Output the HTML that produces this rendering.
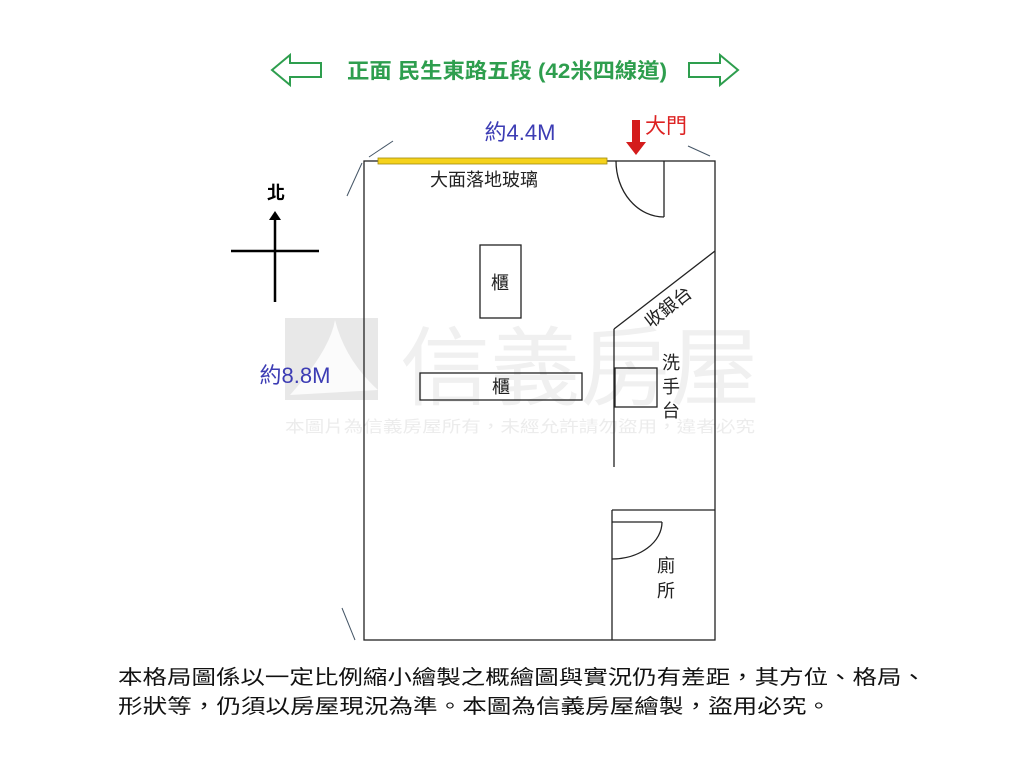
<!DOCTYPE html>
<html><head><meta charset="utf-8"><style>
html,body{margin:0;padding:0;background:#fff;}
svg{display:block;}
text{font-family:"Liberation Sans","Noto Sans CJK TC",sans-serif;}
</style></head><body>
<svg width="1024" height="768" viewBox="0 0 1024 768" xmlns="http://www.w3.org/2000/svg">
<rect width="1024" height="768" fill="#fff"/>
<rect x="285" y="318" width="93" height="82" fill="#e8e8e8"/>
<path d="M290 395 Q330 350 335 320 Q345 360 378 390" fill="#fff" opacity="0.8"/>
<text x="580" y="398" font-size="86" fill="#f0f0f0" text-anchor="middle" textLength="360" lengthAdjust="spacingAndGlyphs">信義房屋</text>
<text x="520" y="432" font-size="16" fill="#ececec" text-anchor="middle" textLength="470" lengthAdjust="spacingAndGlyphs">本圖片為信義房屋所有，未經允許請勿盜用，違者必究</text>
<path d="M272 70 L290 55 L290 63 L321 63 L321 77 L290 77 L290 85 Z" fill="none" stroke="#2e9e4e" stroke-width="2"/>
<path d="M738 70 L720 55 L720 63 L689 63 L689 77 L720 77 L720 85 Z" fill="none" stroke="#2e9e4e" stroke-width="2"/>
<text x="507" y="78" font-size="21" font-weight="bold" fill="#2e9e4e" text-anchor="middle" textLength="320" lengthAdjust="spacingAndGlyphs">正面 民生東路五段 (42米四線道)</text>
<text x="520" y="140" font-size="22" fill="#3c3cb4" text-anchor="middle">約4.4M</text>
<text x="295" y="383" font-size="22" fill="#3c3cb4" text-anchor="middle">約8.8M</text>
<text x="666" y="133" font-size="21" fill="#d22" text-anchor="middle">大門</text>
<path d="M632 120 L640 120 L640 142 L646 142 L636 155 L626 142 L632 142 Z" fill="#d41c1c"/>
<text x="276" y="199" font-size="18" font-weight="bold" fill="#000" text-anchor="middle">北</text>
<line x1="231" y1="251" x2="319" y2="251" stroke="#000" stroke-width="2.5"/>
<line x1="275" y1="302" x2="275" y2="218" stroke="#000" stroke-width="2.5"/>
<path d="M269 220 L275 211 L281 220 Z" fill="#000"/>
<g stroke="#456" stroke-width="1">
<line x1="347" y1="196" x2="362" y2="163"/>
<line x1="369" y1="157" x2="393" y2="141"/>
<line x1="688" y1="146" x2="710" y2="156"/>
<line x1="342" y1="608" x2="355" y2="640"/>
</g>
<g fill="none" stroke="#222" stroke-width="1.3">
<rect x="364" y="161" width="351" height="479"/>
<line x1="664" y1="161" x2="664" y2="217"/>
<path d="M616 161 A48 56 0 0 0 664 217"/>
<line x1="614" y1="329" x2="715" y2="251"/>
<line x1="614" y1="329" x2="614" y2="467"/>
<rect x="615" y="368" width="42" height="39"/>
<rect x="480" y="245" width="41" height="73"/>
<rect x="420" y="373" width="162" height="27"/>
<line x1="612" y1="510" x2="715" y2="510"/>
<line x1="612" y1="510" x2="612" y2="640"/>
<line x1="612" y1="522" x2="662" y2="522"/>
<path d="M662 522 A50 37 0 0 1 612 559"/>
</g>
<rect x="378" y="158" width="229" height="6" fill="#f5d21c" stroke="#a08a10" stroke-width="0.8"/>
<g font-size="18" fill="#222" text-anchor="middle">
<text x="484" y="186">大面落地玻璃</text>
<text x="500" y="289">櫃</text>
<text x="501" y="393">櫃</text>
<text x="671" y="369">洗</text>
<text x="671" y="393">手</text>
<text x="671" y="417">台</text>
<text x="666" y="572">廁</text>
<text x="666" y="597">所</text>
<text x="0" y="0" transform="translate(672,312) rotate(-38)">收銀台</text>
</g>
<g font-size="20" fill="#111">
<text x="118" y="684" textLength="808" lengthAdjust="spacingAndGlyphs">本格局圖係以一定比例縮小繪製之概繪圖與實況仍有差距，其方位、格局、</text>
<text x="118" y="713" textLength="713" lengthAdjust="spacingAndGlyphs">形狀等，仍須以房屋現況為準。本圖為信義房屋繪製，盜用必究。</text>
</g>
</svg>
</body></html>
